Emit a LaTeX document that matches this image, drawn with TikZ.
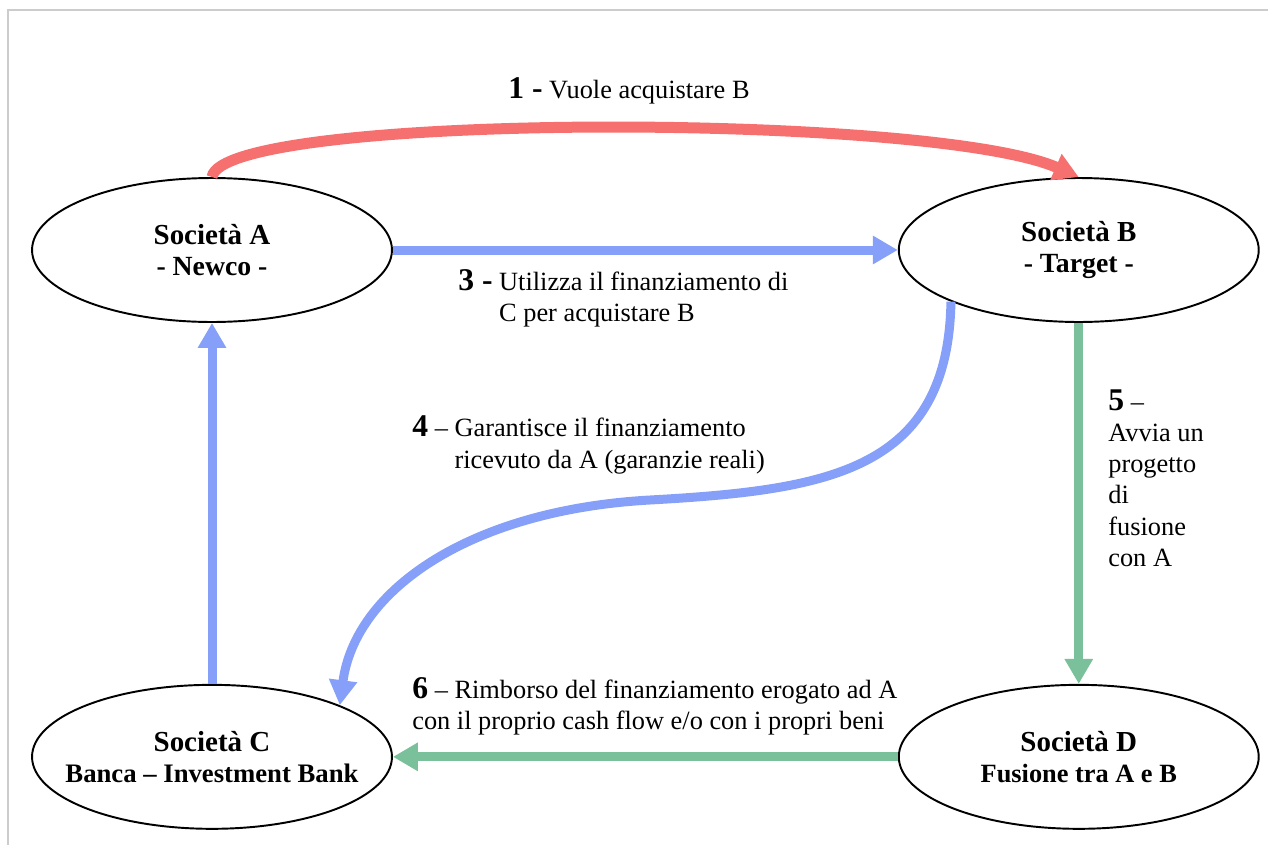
\documentclass[tikz,border=0pt]{standalone}
\usepackage{fontspec}
\setmainfont{Liberation Serif}
\usetikzlibrary{shapes.geometric,arrows.meta,positioning}

\definecolor{rosso}{RGB}{246,112,112}
\definecolor{blu}{RGB}{134,160,250}
\definecolor{verde}{RGB}{122,192,154}
\newcommand{\passo}[1]{{\fontsize{18}{18}\selectfont\bfseries #1}}
\newcommand{\riga}[2]{{\fontsize{#1}{17.6}\selectfont #2}}

\begin{document}
\begin{tikzpicture}[x=0.02cm, y=-0.02cm, >={Triangle[width=0.54cm,length=0.5cm]}]

    \tikzstyle{soc} = [ellipse, draw=black, line width=1.1pt, minimum width=7.2cm, minimum height=2.88cm, inner xsep=-2cm, inner ysep=0pt, align=center, font=\fontsize{16.5}{17.6}\selectfont\bfseries]
    \tikzstyle{freccia} = [->, line width=0.18cm]
    \tikzstyle{etichetta} = [anchor=west, align=left, inner sep=0pt, font=\fontsize{15}{17.8}\selectfont]

    \useasboundingbox (0,0) rectangle (1268,845);
    \draw[black!20, line width=0.8pt] (8,845) -- (8,10) -- (1268,10);

    \node (socA)   [soc]                        at (212,250) {Società A\\\riga{15.8}{- Newco -}};
    \node (socB)   [soc, right=10.1cm of socA]               {Società B\\\riga{15.8}{- Target -}};
    \node (socC)   [soc, below=7.22cm of socA]               {Società C\\\riga{15.2}{Banca -- Investment Bank}};
    \node (socD)   [soc, right=10.1cm of socC]               {Società D\\\riga{15}{Fusione tra A e B}};

    \node (lbl1)   [etichetta] at (508,91)  {\passo{1 -} Vuole acquistare B};
    \node (lbl3)   [etichetta] at (458,298) {\passo{3 -} Utilizza il finanziamento di\\\hphantom{\passo{3 -} }C per acquistare B};
    \node (lbl4)   [etichetta] at (412,445) {\passo{4} -- Garantisce il finanziamento\\\hphantom{\passo{4} -- }ricevuto da A (garanzie reali)};
    \node (lbl5)   [etichetta] at (1108,478) {\passo{5} --\\Avvia un\\progetto\\di\\fusione\\con A};
    \node (lbl6)   [etichetta] at (412,706) {\passo{6} -- Rimborso del finanziamento erogato ad A\\con il proprio cash flow e/o con i propri beni};

    \draw[freccia, rosso, line width=0.22cm] (socA.north) .. controls (222,112) and (930,112) .. (socB.north);
    \draw[freccia, blu]   (socA.east)  -- (socB.west);
    \draw[freccia, blu]   (socB.202) .. controls (948,470) and (830,490) .. (650,500) .. controls (470,510) and (355,590) .. (socC.22);
    \draw[freccia, verde] (socB.south) -- (socD.north);
    \draw[freccia, verde] (socD.west)  -- (socC.east);
    \draw[freccia, blu]   (socC.north) -- (socA.south);
\end{tikzpicture}
\end{document}
